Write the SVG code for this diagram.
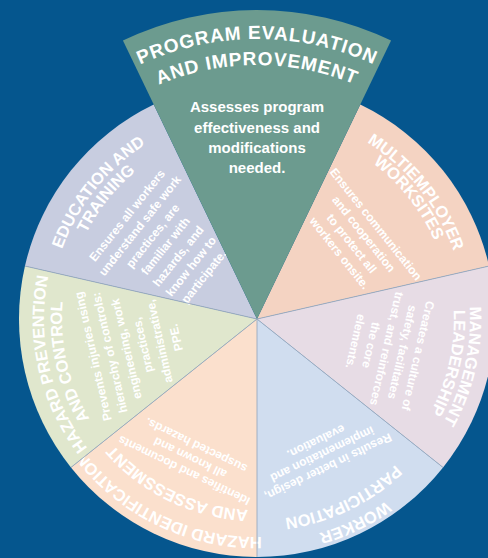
<svg xmlns="http://www.w3.org/2000/svg" width="488" height="558" viewBox="0 0 488 558">
<style>
.t{font-family:"Liberation Sans",Arial,sans-serif;font-weight:700;fill:#fff;text-anchor:middle}
.ttl{font-size:16.5px}
.big{font-size:19px;letter-spacing:0.9px}
.d{font-size:12px}
.td{font-size:15px}
.sep{stroke:#98a9be;stroke-width:0.9;fill:none}
</style>
<defs>
<path id="sector" d="M0 0 L-103.27 -214.44 A238 238 0 0 1 103.27 -214.44 Z"/>
<path id="a280" d="M-242.49 -140 A280 280 0 0 1 242.49 -140"/>
<path id="a254" d="M-219.97 -127 A254 254 0 0 1 219.97 -127"/>
<path id="a223" d="M-193.12 -111.5 A223 223 0 0 1 193.12 -111.5"/>
<path id="a218" d="M-188.79 -109 A218 218 0 0 1 188.79 -109"/>
<path id="a213" d="M-184.46 -106.5 A213 213 0 0 1 184.46 -106.5"/>
<path id="a208" d="M-180.13 -104 A208 208 0 0 1 180.13 -104"/>
<path id="a207" d="M-179.27 -103.5 A207 207 0 0 1 179.27 -103.5"/>
<path id="a201" d="M-174.07 -100.5 A201 201 0 0 1 174.07 -100.5"/>
<path id="a197" d="M-170.6 -98.5 A197 197 0 0 1 170.6 -98.5"/>
<path id="a195" d="M-168.87 -97.5 A195 195 0 0 1 168.87 -97.5"/>
<path id="a194" d="M-168.01 -97 A194 194 0 0 1 168.01 -97"/>
<path id="a191" d="M-165.41 -95.5 A191 191 0 0 1 165.41 -95.5"/>
</defs>
<rect width="488" height="558" fill="#05568e"/>

<g id="multiemployer-worksites" transform="translate(257 319) rotate(51.43)">
<use href="#sector" fill="#f4d3c2"/>
<text class="t ttl"><textPath href="#a208" startOffset="50%">MULTIEMPLOYER</textPath></text>
<text class="t ttl"><textPath href="#a194" startOffset="50%">WORKSITES</textPath></text>
<text class="t d" x="0" y="-148">Ensures communication</text>
<text class="t d" x="0" y="-132.5">and cooperation</text>
<text class="t d" x="0" y="-117">to protect all</text>
<text class="t d" x="0" y="-101.5">workers onsite.</text>
</g>

<g id="management-leadership" transform="translate(257 319) rotate(102.86)">
<use href="#sector" fill="#e7dce5"/>
<text class="t ttl"><textPath href="#a213" startOffset="50%">MANAGEMENT</textPath></text>
<text class="t ttl"><textPath href="#a197" startOffset="50%">LEADERSHIP</textPath></text>
<text class="t d" x="0" y="-161">Creates a culture of</text>
<text class="t d" x="0" y="-145">safety, facilitates</text>
<text class="t d" x="0" y="-129">trust, and reinforces</text>
<text class="t d" x="0" y="-113">the core</text>
<text class="t d" x="0" y="-97">elements.</text>
</g>

<g id="worker-participation" transform="translate(257 319) rotate(154.29)">
<use href="#sector" fill="#d0ddef"/>
<text class="t ttl"><textPath href="#a223" startOffset="50%">WORKER</textPath></text>
<text class="t ttl"><textPath href="#a201" startOffset="50%">PARTICIPATION</textPath></text>
<text class="t d" x="0" y="-160">Results in better design,</text>
<text class="t d" x="0" y="-146">implementation and</text>
<text class="t d" x="0" y="-132">evaluation.</text>
</g>

<g id="hazard-identification" transform="translate(257 319) rotate(205.71)">
<use href="#sector" fill="#fbe0cd"/>
<text class="t ttl"><textPath href="#a218" startOffset="50%">HAZARD IDENTIFICATION</textPath></text>
<text class="t ttl"><textPath href="#a191" startOffset="50%">AND ASSESSMENT</textPath></text>
<text class="t d" x="0" y="-164">Identifies and documents</text>
<text class="t d" x="0" y="-150">all known and</text>
<text class="t d" x="0" y="-136">suspected hazards.</text>
</g>

<g id="hazard-prevention" transform="translate(257 319) rotate(257.14)">
<use href="#sector" fill="#e0e7cd"/>
<text class="t ttl"><textPath href="#a213" startOffset="50%">HAZARD PREVENTION</textPath></text>
<text class="t ttl"><textPath href="#a195" startOffset="50%">AND CONTROL</textPath></text>
<text class="t d" x="0" y="-164">Prevents injuries using</text>
<text class="t d" x="0" y="-147">hierarchy of controls:</text>
<text class="t d" x="0" y="-130">engineering, work</text>
<text class="t d" x="0" y="-113">practices,</text>
<text class="t d" x="0" y="-96">administrative,</text>
<text class="t d" x="0" y="-79">PPE.</text>
</g>

<g id="education-training" transform="translate(257 319) rotate(308.57)">
<use href="#sector" fill="#c8cde0"/>
<text class="t ttl"><textPath href="#a207" startOffset="50%">EDUCATION AND</textPath></text>
<text class="t ttl"><textPath href="#a191" startOffset="50%">TRAINING</textPath></text>
<text class="t d" x="0" y="-162">Ensures all workers</text>
<text class="t d" x="0" y="-145.7">understand safe work</text>
<text class="t d" x="0" y="-129.3">practices, are</text>
<text class="t d" x="0" y="-113">familiar with</text>
<text class="t d" x="0" y="-96.7">hazards, and</text>
<text class="t d" x="0" y="-80.3">know how to</text>
<text class="t d" x="0" y="-64">participate.</text>
</g>

<g id="separators" transform="translate(257 319)">
<line class="sep" x1="0" y1="0" x2="232.05" y2="-52.96"/>
<line class="sep" x1="0" y1="0" x2="185.98" y2="148.39"/>
<line class="sep" x1="0" y1="0" x2="0" y2="238"/>
<line class="sep" x1="0" y1="0" x2="-185.98" y2="148.39"/>
<line class="sep" x1="0" y1="0" x2="-232.05" y2="-52.96"/>
</g>

<g id="program-evaluation" transform="translate(257 319)">
<path d="M0 0 L-134.08 -278.41 A309 309 0 0 1 134.08 -278.41 Z" fill="#6c9b8f"/>
<text class="t big"><textPath href="#a280" startOffset="50%">PROGRAM EVALUATION</textPath></text>
<text class="t big"><textPath href="#a254" startOffset="50%">AND IMPROVEMENT</textPath></text>
<text class="t td" x="0" y="-207.3">Assesses program</text>
<text class="t td" x="0" y="-186.5">effectiveness and</text>
<text class="t td" x="0" y="-166">modifications</text>
<text class="t td" x="0" y="-145.7">needed.</text>
</g>
</svg>
